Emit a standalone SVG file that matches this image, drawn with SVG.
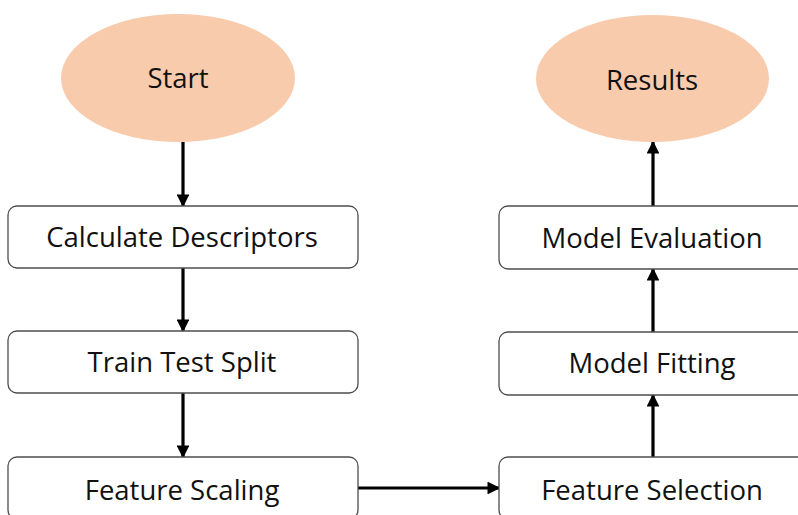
<svg xmlns="http://www.w3.org/2000/svg" width="798" height="515" viewBox="0 0 798 515">
  <style>
    .term { fill: #F8CBAD; stroke: none; }
    .step { fill: #FFFFFF; stroke: #4D4D4D; stroke-width: 1.3; }
    .label { font-family: "Open Sans", "Liberation Sans", sans-serif; font-size: 27.5px; fill: #111111; text-anchor: middle; }
    .flow { stroke: #000000; stroke-width: 3.2; fill: none; marker-end: url(#head); }
  </style>
  <defs>
    <marker id="head" markerWidth="4" markerHeight="4" refX="3.6" refY="2" orient="auto" markerUnits="strokeWidth">
      <path d="M0,0 L4,2 L0,4 Z" fill="#000000"/>
    </marker>
  </defs>
  <rect width="798" height="515" fill="#FFFFFF"/>

  <g id="connectors">
    <line class="flow" x1="183" y1="142" x2="183" y2="206"/>
    <line class="flow" x1="183" y1="268" x2="183" y2="331"/>
    <line class="flow" x1="183" y1="393" x2="183" y2="457"/>
    <line class="flow" x1="358" y1="488" x2="499" y2="488"/>
    <line class="flow" x1="653" y1="457" x2="653" y2="395"/>
    <line class="flow" x1="653" y1="332" x2="653" y2="269"/>
    <line class="flow" x1="653" y1="206" x2="653" y2="142"/>
  </g>

  <g id="start">
    <ellipse class="term" cx="178" cy="78" rx="117" ry="64"/>
    <text class="label" x="178" y="88">Start</text>
  </g>
  <g id="calculate-descriptors">
    <rect class="step" x="8" y="206" width="350" height="62" rx="9"/>
    <text class="label" x="182" y="247">Calculate Descriptors</text>
  </g>
  <g id="train-test-split">
    <rect class="step" x="8" y="331" width="350" height="62" rx="9"/>
    <text class="label" x="182" y="372">Train Test Split</text>
  </g>
  <g id="feature-scaling">
    <rect class="step" x="8" y="457" width="350" height="62" rx="9"/>
    <text class="label" x="182" y="500">Feature Scaling</text>
  </g>
  <g id="feature-selection">
    <rect class="step" x="499" y="457" width="350" height="62" rx="9"/>
    <text class="label" x="652" y="500">Feature Selection</text>
  </g>
  <g id="model-fitting">
    <rect class="step" x="499" y="332" width="350" height="63" rx="9"/>
    <text class="label" x="652" y="373">Model Fitting</text>
  </g>
  <g id="model-evaluation">
    <rect class="step" x="499" y="206" width="350" height="63" rx="9"/>
    <text class="label" x="652" y="248">Model Evaluation</text>
  </g>
  <g id="results">
    <ellipse class="term" cx="652.5" cy="78.5" rx="116.5" ry="63.5"/>
    <text class="label" x="652" y="90">Results</text>
  </g>
</svg>
